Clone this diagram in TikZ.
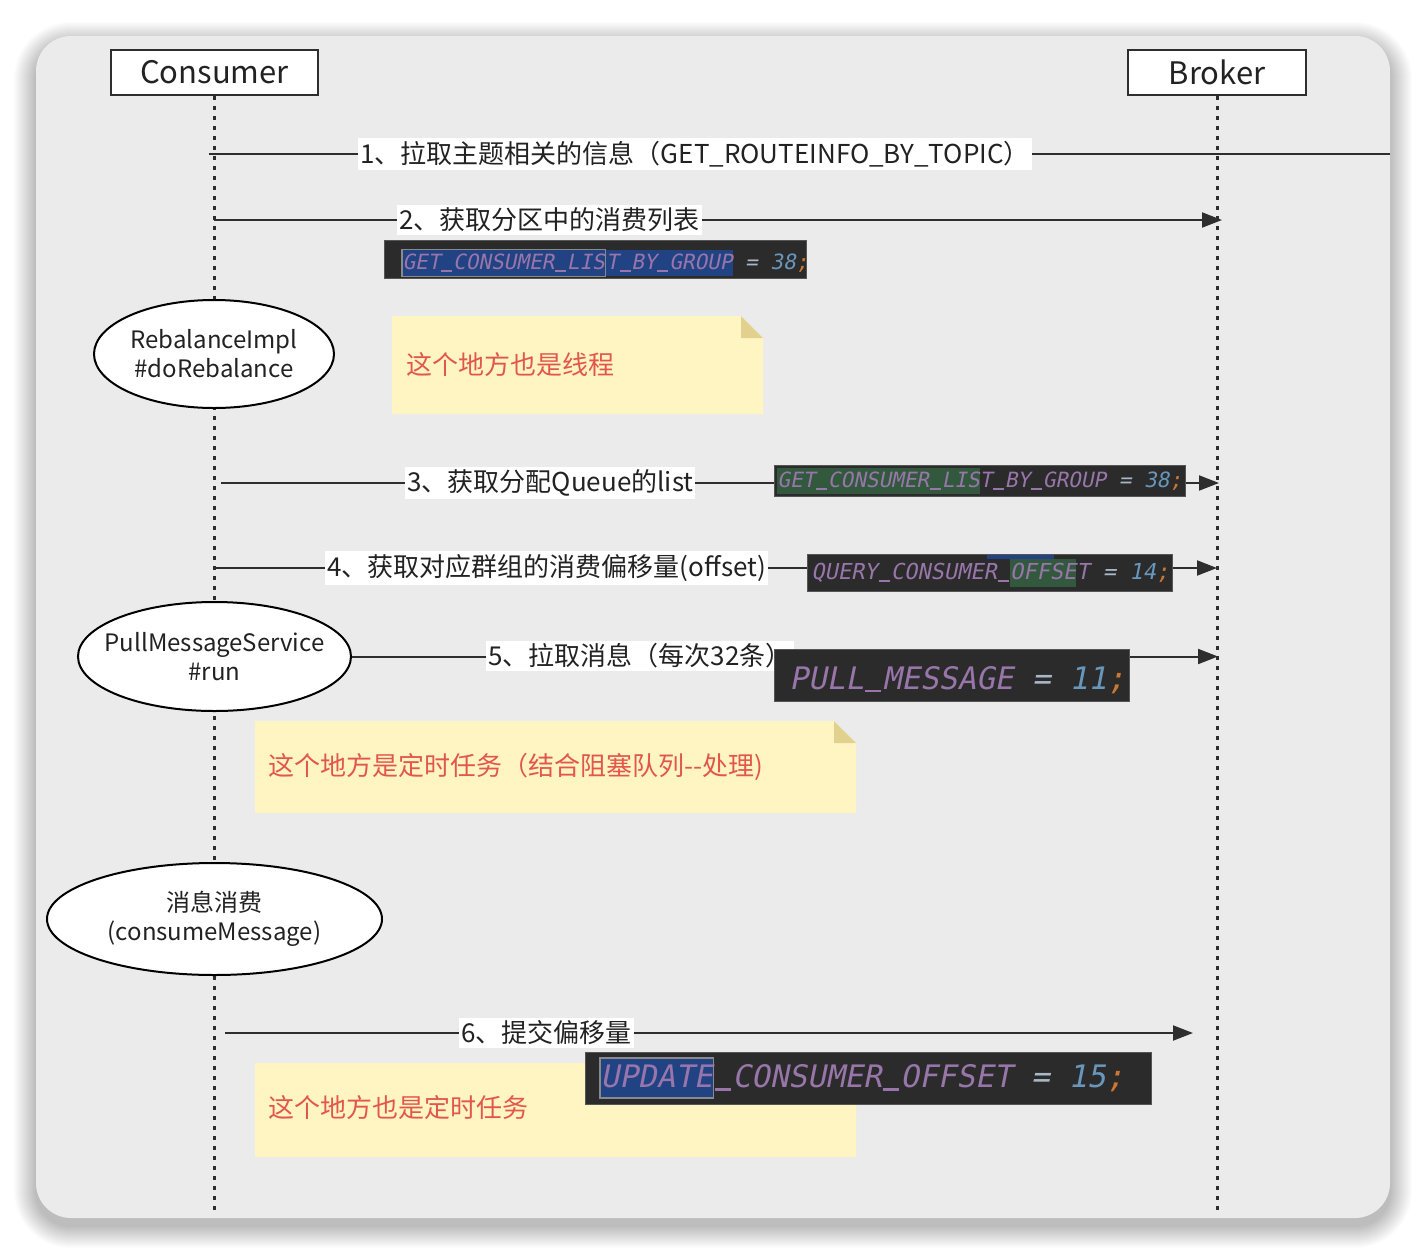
\documentclass[tikz,border=0pt]{standalone}
\usepackage{fontspec}
\setmainfont{Noto Sans CJK SC}
\newfontfamily\codefont{DejaVu Sans Mono}[FakeSlant=0.2]
\usetikzlibrary{shapes.geometric,arrows.meta}
\definecolor{cardbg}{HTML}{EBEBEB}
\definecolor{linec}{HTML}{2E2E2E}
\definecolor{textc}{HTML}{222222}
\definecolor{notebg}{HTML}{FEF5C3}
\definecolor{notefold}{HTML}{E2D08F}
\definecolor{notered}{HTML}{E2574C}
\definecolor{codebg}{HTML}{2B2B2B}
\definecolor{codeborder}{HTML}{555555}
\definecolor{codepur}{HTML}{9876AA}
\definecolor{codeeq}{HTML}{A9B7C6}
\definecolor{codenum}{HTML}{6897BB}
\definecolor{codesemi}{HTML}{CC7832}
\definecolor{hlblue}{HTML}{214283}
\definecolor{hlgreen}{HTML}{32593D}
\definecolor{hlline}{HTML}{8A8A8A}
\newcommand\hlbox[2]{{\setlength\fboxsep{0pt}\colorbox{#1}{\rule[-0.32em]{0pt}{1.25em}#2}}}
\newcommand\hlframe[2]{{\setlength\fboxsep{0pt}\setlength\fboxrule{0.6pt}\fcolorbox{hlline}{#1}{\rule[-0.32em]{0pt}{1.25em}#2}}}
\newcommand\cq[1]{\textcolor{codeeq}{=} \textcolor{codenum}{#1}\textcolor{codesemi}{;}}
\newcommand\us{\kern0.04em\rule[-0.1em]{0.522em}{0.085em}\kern0.04em}
\begin{document}
\begin{tikzpicture}[x=0.5pt,y=-0.5pt,
  lifeline/.style={draw=linec, line width=1.5pt, dash pattern=on 2pt off 3pt},
  msg/.style={draw=linec, line width=1pt},
  arr/.style={msg, -{Triangle[length=10pt,width=7.5pt]}},
  lbl/.style={fill=white, text=textc, font=\fontsize{13}{15}\selectfont, inner xsep=1pt, inner ysep=1.5pt, anchor=west},
  hdr/.style={draw=linec, line width=1.2pt, fill=white, font=\fontsize{15.5}{18}\selectfont, text=textc, inner sep=0pt},
  act/.style={ellipse, draw=black, line width=1pt, fill=white, inner xsep=-30pt, inner ysep=-8pt, align=center, text=textc, font=\fontsize{12}{14.5}\selectfont},
  codebox/.style={fill=codebg, draw=codeborder, line width=0.5pt, inner sep=0pt, anchor=north west},
  codetxt/.style={inner sep=0pt, anchor=west, text=codepur},
  notebody/.style={fill=notebg},
  notecorner/.style={fill=notefold},
  notetxt/.style={text=notered, font=\fontsize{13}{15}\selectfont, anchor=west, inner sep=0pt}
]
\useasboundingbox (0,0) rectangle (1426,1254);
\fill[white] (0,0) rectangle (1426,1254);
% shadow
\foreach \i in {1,...,22} {
  \pgfmathsetmacro\rr{17.5+0.5*\i}
  \fill[black, opacity=0.010, rounded corners=\rr pt] (36-\i,36-\i+8) rectangle (1390+\i,1218+\i+8);
}
% card
\fill[cardbg, rounded corners=17.5pt] (36,36) rectangle (1390,1218);

% headers
\node[hdr, minimum width=103.5pt, minimum height=22.5pt] (cons) at (214.5,72.5) {Consumer};
\node[hdr, minimum width=89pt, minimum height=22.5pt] (brok) at (1217,72.5) {Broker};
\coordinate (consend) at (214.5,1215);
\coordinate (brokend) at (1217,1215);
\draw[lifeline] (cons.south) -- (consend);
\draw[lifeline] (brok.south) -- (brokend);

% message coordinates
\coordinate (m1s) at (209,154);  \coordinate (m1e) at (1390,154);
\coordinate (m2s) at (214,220);  \coordinate (m2e) at (1222,220);
\coordinate (m3s) at (221,483);  \coordinate (m3e) at (1219,483);
\coordinate (m4s) at (214,568);  \coordinate (m4e) at (1217,568);
\coordinate (m5e) at (1218,656.5);
\coordinate (m6s) at (225,1033); \coordinate (m6e) at (1193,1033);

\draw[msg] (m1s) -- (m1e);
\draw[arr] (m2s) -- (m2e);
\draw[arr] (m3s) -- (m3e);
\draw[arr] (m4s) -- (m4e);
\draw[arr] (m6s) -- (m6e);

% labels
\node[lbl] (l1) at (358,154) {1、拉取主题相关的信息（GET\_ROUTEINFO\_BY\_TOPIC）};
\node[lbl] (l2) at (397,220) {2、获取分区中的消费列表};
\node[lbl] (l3) at (405,483) {3、获取分配Queue的list};
\node[lbl] (l4) at (325,568) {4、获取对应群组的消费偏移量(offset)};
\node[lbl] (l6) at (459,1033) {6、提交偏移量};

% code snippet 1
\node[codebox, minimum width=211pt, minimum height=19pt] (c1) at (384,240) {};
\node[codetxt, font=\codefont\fontsize{10.5}{12}\selectfont] (c1t) at (401,263) {\hlframe{hlblue}{GET\us CONSUMER\us LIS}\hlbox{hlblue}{T\us BY\us GROUP} \cq{38}};

% code snippet 3
\node[codebox, minimum width=205.5pt, minimum height=15.5pt] (c3) at (774,465) {};
\node[codetxt, font=\codefont\fontsize{10.5}{12}\selectfont] (c3t) at (777,481) {\hlbox{hlgreen}{GET\us CONSUMER\us LIS}T\us BY\us GROUP \cq{38}};

% code snippet 4
\node[codebox, minimum width=182.5pt, minimum height=18.5pt] (c4) at (807,554) {};
\fill[hlblue] (987,555) rectangle (1054,559);
\node[codetxt, font=\codefont\fontsize{11}{13}\selectfont] (c4t) at (811,573) {QUERY\us CONSUMER\us\hlbox{hlgreen}{OFFSE}T \cq{14}};

% note 1
\fill[notebody] (392,316) -- (741,316) -- (763,338) -- (763,414) -- (392,414) -- cycle;
\fill[notecorner] (741,316) -- (741,338) -- (763,338) -- cycle;
\node[notetxt] (n1) at (406,365) {这个地方也是线程};

% activity 1
\node[act, minimum width=120pt, minimum height=54pt] (rb) at (214,354) {RebalanceImpl\\\#doRebalance};

% activity 2 and message 5
\node[act, minimum width=136.5pt, minimum height=54.5pt] (pm) at (214.5,656.5) {PullMessageService\\\#run};
\draw[arr] (pm.east) -- (m5e);
\node[lbl] (l5) at (486,656) {5、拉取消息（每次32条）};
\node[codebox, minimum width=177.5pt, minimum height=26pt] (c5) at (774,649) {};
\node[codetxt, font=\codefont\fontsize{15.5}{18}\selectfont] (c5t) at (789,680) {PULL\us MESSAGE \cq{11}};

% note 2
\fill[notebody] (255,721) -- (834,721) -- (856,743) -- (856,813) -- (255,813) -- cycle;
\fill[notecorner] (834,721) -- (834,743) -- (856,743) -- cycle;
\node[notetxt] (n2) at (268,767) {这个地方是定时任务（结合阻塞队列-{}-处理)};

% activity 3
\node[act, minimum width=167.5pt, minimum height=56pt] (cm) at (214.5,919) {消息消费\\(consumeMessage)};

% note 3
\fill[notebody] (255,1063) -- (834,1063) -- (856,1085) -- (856,1157) -- (255,1157) -- cycle;
\fill[notecorner] (834,1063) -- (834,1085) -- (856,1085) -- cycle;
\node[notetxt] (n3) at (268,1108) {这个地方也是定时任务};

% code snippet 6
\node[codebox, minimum width=283pt, minimum height=26pt] (c6) at (585,1052) {};
\node[codetxt, font=\codefont\fontsize{15.5}{18}\selectfont] (c6t) at (599,1078) {\hlframe{hlblue}{UPDATE}\us CONSUMER\us OFFSET \cq{15}};
\end{tikzpicture}
\end{document}
